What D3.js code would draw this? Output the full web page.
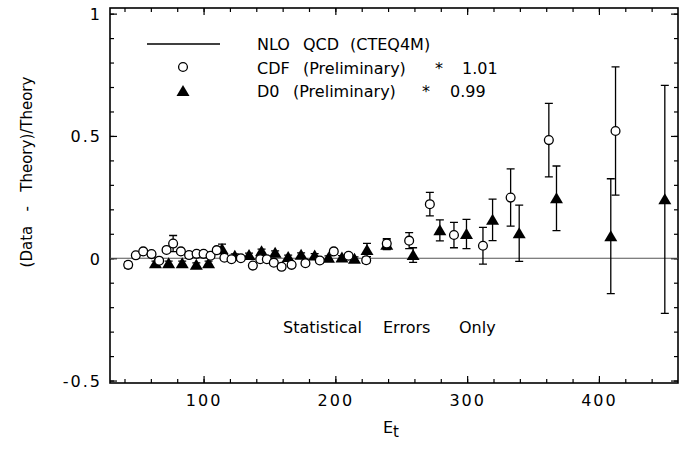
<!DOCTYPE html>
<html>
<head>
<meta charset="utf-8">
<script src="https://cdn.jsdelivr.net/npm/d3@7"></script>
<style>
  body { margin: 0; background: #fff; }
  svg text { font-family: 'DejaVu Sans', sans-serif; fill: #000; }
</style>
</head>
<body>
<svg id="chart" width="697" height="449"></svg>
<script>
// CDF points (E_t, (data-theory)/theory, stat error)
const cdfEt = [42.8, 48.6, 54.2, 60.5, 66.3, 71.9, 76.9, 82.8, 89, 94.7, 100, 105.3, 110, 115.8, 121.2, 128.3,
  137.4, 143, 148, 153.3, 159.2, 166.8, 177.3, 188.2, 198.8, 210, 223.4, 239, 256, 271.7, 290, 312, 333, 362, 412.6];
const cdfVal = [-0.027, 0.012, 0.028, 0.017, -0.01, 0.034, 0.06, 0.028, 0.013, 0.018, 0.018, 0.01, 0.033, 0.002, -0.004, 0,
  -0.03, -0.004, -0.004, -0.018, -0.035, -0.027, -0.02, -0.009, 0.028, 0.01, -0.008, 0.06, 0.072, 0.221, 0.095, 0.051, 0.248, 0.483, 0.52];
const cdfErr = [0.012, 0.008, 0.008, 0.008, 0.008, 0.008, 0.033, 0.008, 0.008, 0.008, 0.008, 0.008, 0.008, 0.008, 0.008, 0.008,
  0.008, 0.008, 0.008, 0.008, 0.008, 0.008, 0.008, 0.01, 0.01, 0.01, 0.012, 0.02, 0.033, 0.048, 0.052, 0.075, 0.117, 0.15, 0.262];

// D0 points
const d0Et = [63.5, 73.5, 83.8, 94.5, 103.8, 114, 123.7, 134.5, 144, 154.3, 164.2, 174, 184.3, 194.8, 205, 214.5,
  224, 239, 259, 279.3, 299.5, 319.3, 339.5, 367.8, 409, 450];
const d0Val = [-0.02, -0.02, -0.02, -0.027, -0.02, 0.038, 0.01, 0.013, 0.029, 0.022, 0.005, 0.014, 0.011, 0.002, 0.003, -0.002,
  0.034, 0.055, 0.013, 0.114, 0.099, 0.157, 0.102, 0.245, 0.09, 0.241];
const d0Err = [0.008, 0.008, 0.008, 0.008, 0.008, 0.02, 0.008, 0.008, 0.008, 0.008, 0.008, 0.008, 0.008, 0.008, 0.008, 0.008,
  0.027, 0.02, 0.03, 0.043, 0.06, 0.085, 0.115, 0.132, 0.235, 0.466];

const xMajor = [100, 200, 300, 400];
const xMinor = d3.range(40, 460, 20);
const yMajor = [-0.5, 0, 0.5, 1];
const yMajorLabels = ['-0.5', '0', '0.5', '1'];
const yMinor = d3.range(-5, 11).map((d) => d / 10);

const legendRows = [
  { words: ['NLO', 'QCD', '(CTEQ4M)'], xs: [257, 303, 350] },
  { words: ['CDF', '(Preliminary)', '*', '1.01'], xs: [257, 303, 435, 462] },
  { words: ['D0', '(Preliminary)', '*', '0.99'], xs: [257, 293, 422, 450] }
];

const svg = d3.select('#chart');
const pLeft = 110, pRight = 678, pTop = 8, pBottom = 383;

const x = d3.scaleLinear().domain([29, 460]).range([pLeft, pRight]);
const y = d3.scaleLinear().domain([-0.51, 1.023]).range([pBottom, pTop]);

const cdf = cdfEt.map((e, i) => ({ e, v: cdfVal[i], err: cdfErr[i] }));
const d0 = d0Et.map((e, i) => ({ e, v: d0Val[i], err: d0Err[i] }));

// ticks, all four sides pointing inward
function drawTicks(axisFn, scale, values, len, transform, fmt) {
  const ax = axisFn(scale).tickValues(values).tickSizeInner(-len).tickSizeOuter(0);
  ax.tickFormat(fmt || (() => ''));
  const g = svg.append('g').attr('transform', transform).call(ax);
  g.select('.domain').remove();
  g.selectAll('.tick line').attr('stroke', '#000').attr('stroke-width', 1.2);
  return g;
}

drawTicks(d3.axisBottom, x, xMinor, 4, `translate(0,${pBottom})`);
const xLab = drawTicks(d3.axisBottom, x, xMajor, 7, `translate(0,${pBottom})`, (d) => String(d));
xLab.selectAll('.tick text')
  .attr('y', 12).attr('dy', '0.71em')
  .attr('font-size', 16).attr('font-family', 'DejaVu Sans').attr('letter-spacing', 2);
drawTicks(d3.axisTop, x, xMinor, 4, `translate(0,${pTop})`);
drawTicks(d3.axisTop, x, xMajor, 7, `translate(0,${pTop})`);

drawTicks(d3.axisLeft, y, yMinor, 4, `translate(${pLeft},0)`);
const yLab = drawTicks(d3.axisLeft, y, yMajor, 7, `translate(${pLeft},0)`, (d, i) => yMajorLabels[i]);
yLab.selectAll('.tick text')
  .attr('x', -8).attr('dy', '0.36em')
  .attr('font-size', 16).attr('font-family', 'DejaVu Sans').attr('letter-spacing', 2);
drawTicks(d3.axisRight, y, yMinor, 4, `translate(${pRight},0)`);
drawTicks(d3.axisRight, y, yMajor, 7, `translate(${pRight},0)`);

// frame
svg.append('rect')
  .attr('x', pLeft).attr('y', pTop)
  .attr('width', pRight - pLeft).attr('height', pBottom - pTop)
  .attr('fill', 'none').attr('stroke', '#000').attr('stroke-width', 1.6);

// theory line at zero
svg.append('line')
  .attr('x1', pLeft).attr('x2', pRight)
  .attr('y1', y(0)).attr('y2', y(0))
  .attr('stroke', '#555').attr('stroke-width', 1.2);

// error bars
function errorBars(data) {
  const g = svg.append('g').attr('stroke', '#000').attr('stroke-width', 1.3).attr('fill', 'none');
  const cap = 4;
  g.selectAll('path')
    .data(data)
    .join('path')
    .attr('d', (d) => {
      const cx = x(d.e), y1 = y(d.v + d.err), y2 = y(d.v - d.err);
      return `M${cx},${y1}V${y2}M${cx - cap},${y1}H${cx + cap}M${cx - cap},${y2}H${cx + cap}`;
    });
}
errorBars(cdf);
errorBars(d0);

const triPath = 'M0,-6L6.5,5L-6.5,5Z';

svg.append('g')
  .selectAll('path')
  .data(d0)
  .join('path')
  .attr('d', triPath)
  .attr('transform', (d) => `translate(${x(d.e)},${y(d.v)})`)
  .attr('fill', '#000');

svg.append('g')
  .selectAll('circle')
  .data(cdf)
  .join('circle')
  .attr('cx', (d) => x(d.e))
  .attr('cy', (d) => y(d.v))
  .attr('r', 4.4)
  .attr('fill', '#fff')
  .attr('stroke', '#000')
  .attr('stroke-width', 1.3);

// legend
const legY = [50, 74, 97];
svg.append('line')
  .attr('x1', 147).attr('x2', 220).attr('y1', 44).attr('y2', 44)
  .attr('stroke', '#000').attr('stroke-width', 1.3);
svg.append('circle')
  .attr('cx', 183).attr('cy', 67).attr('r', 4.4)
  .attr('fill', '#fff').attr('stroke', '#000').attr('stroke-width', 1.3);
svg.append('path')
  .attr('d', triPath)
  .attr('transform', 'translate(183,91)')
  .attr('fill', '#000');

legendRows.forEach((row, r) => {
  const t = svg.append('text').attr('y', legY[r]).attr('font-size', 16);
  row.words.forEach((w, i) => t.append('tspan').attr('x', row.xs[i]).text(w));
});

// note
const note = svg.append('text').attr('y', 333).attr('font-size', 16);
[['Statistical', 283], ['Errors', 383], ['Only', 459]].forEach(([w, px]) =>
  note.append('tspan').attr('x', px).text(w));

// axis titles
svg.append('text')
  .attr('transform', 'translate(32,172) rotate(-90)')
  .attr('text-anchor', 'middle')
  .attr('font-size', 15)
  .style('white-space', 'pre')
  .text('(Data   -   Theory)/Theory');

const xt = svg.append('text').attr('x', 383).attr('y', 433).attr('font-size', 16);
xt.append('tspan').text('E');
xt.append('tspan').attr('dy', 4).attr('font-size', 15).text('t');
</script>
</body>
</html>
